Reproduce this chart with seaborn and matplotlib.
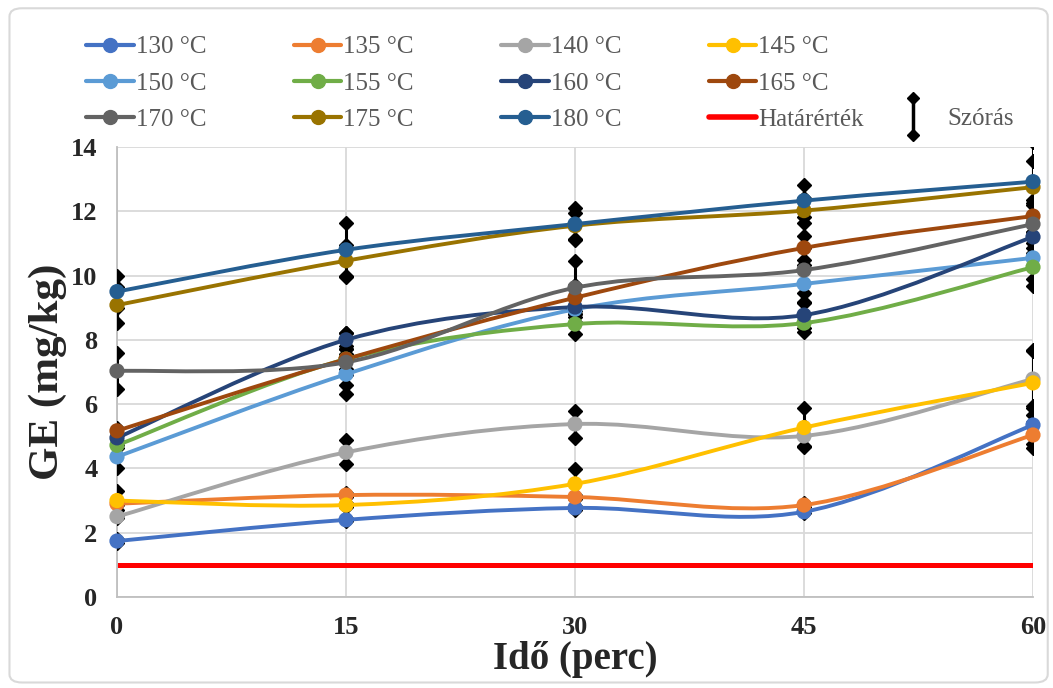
import numpy as np
import pandas as pd
import matplotlib
matplotlib.use("Agg")
import matplotlib.pyplot as plt
import seaborn as sns
from matplotlib.path import Path
from matplotlib.patches import PathPatch, FancyBboxPatch
from matplotlib.lines import Line2D
from matplotlib.legend_handler import HandlerBase

# --- data ---
times = [0, 15, 30, 45, 60]
labels = ["130 °C", "135 °C", "140 °C", "145 °C", "150 °C", "155 °C",
          "160 °C", "165 °C", "170 °C", "175 °C", "180 °C"]

ge_130 = [1.74, 2.40, 2.77, 2.65, 5.35]
ge_135 = [2.90, 3.17, 3.11, 2.86, 5.04]
ge_140 = [2.50, 4.50, 5.38, 5.01, 6.78]
ge_145 = [3.00, 2.86, 3.52, 5.27, 6.66]
ge_150 = [4.36, 6.93, 8.95, 9.74, 10.55]
ge_155 = [4.72, 7.40, 8.49, 8.52, 10.26]
ge_160 = [4.95, 8.00, 9.02, 8.77, 11.20]
ge_165 = [5.17, 7.40, 9.31, 10.86, 11.85]
ge_170 = [7.03, 7.30, 9.62, 10.17, 11.60]
ge_175 = [9.08, 10.46, 11.55, 12.02, 12.75]
ge_180 = [9.50, 10.80, 11.60, 12.33, 12.92]

# standard deviations (Szórás)
sd_130 = [0.05, 0.05, 0.05, 0.05, 0.60]
sd_135 = [0.05, 0.05, 0.05, 0.05, 0.40]
sd_140 = [0.05, 0.37, 0.42, 0.30, 0.90]
sd_145 = [0.30, 0.05, 0.45, 0.60, 1.00]
sd_150 = [0.36, 0.63, 0.40, 0.60, 0.66]
sd_155 = [0.10, 0.30, 0.30, 0.27, 0.60]
sd_160 = [0.10, 0.20, 0.30, 0.40, 0.50]
sd_165 = [0.10, 0.80, 0.40, 0.37, 0.50]
sd_170 = [0.55, 0.40, 0.83, 0.70, 0.60]
sd_175 = [0.55, 0.50, 0.40, 0.40, 1.40]
sd_180 = [0.50, 0.83, 0.50, 0.50, 0.65]

hatarertek = 1.0

colors = ["#4472C4", "#ED7D31", "#A5A5A5", "#FFC000", "#5B9BD5", "#70AD47",
          "#264478", "#9E480E", "#636363", "#997300", "#255E91"]

values = [ge_130, ge_135, ge_140, ge_145, ge_150, ge_155,
          ge_160, ge_165, ge_170, ge_175, ge_180]
errors = [sd_130, sd_135, sd_140, sd_145, sd_150, sd_155,
          sd_160, sd_165, sd_170, sd_175, sd_180]

df = pd.DataFrame({
    "Idő": np.tile(times, len(labels)),
    "GE": np.concatenate(values),
    "sd": np.concatenate(errors),
    "Hőmérséklet": np.repeat(labels, len(times)),
})


def smooth_path(xs, ys):
    """Excel-like smoothed line through the points (cubic Bezier segments)."""
    pts = np.column_stack([xs, ys]).astype(float)
    n = len(pts)
    verts = [pts[0]]
    codes = [Path.MOVETO]
    for i in range(n - 1):
        p0 = pts[max(i - 1, 0)]
        p1 = pts[i]
        p2 = pts[i + 1]
        p3 = pts[min(i + 2, n - 1)]
        verts += [p1 + (p2 - p0) / 6, p2 - (p3 - p1) / 6, p2]
        codes += [Path.CURVE4] * 3
    return Path(verts, codes)


class SzorasHandler(HandlerBase):
    def create_artists(self, legend, orig_handle, xdescent, ydescent,
                       width, height, fontsize, trans):
        cx = width / 2 - xdescent
        cy = height / 2 - ydescent
        ln = Line2D([cx, cx], [cy - 13.5, cy + 13.5], color="black", lw=2.5,
                    marker="D", ms=6.5, transform=trans)
        return [ln]


sns.set_style("white")
plt.rcParams["font.family"] = ["Liberation Serif", "DejaVu Serif"]

fig = plt.figure(figsize=(10.53, 6.88), dpi=100)
ax = fig.add_axes([0.1111, 0.1323, 0.8699, 0.6541])

# red limit line
ax.plot(times, [hatarertek] * len(times), color="#FF0000", lw=3.6, zorder=2,
        solid_capstyle="butt")

# error bars (clipped by the axes like the original)
for _, row in df.iterrows():
    ax.plot([row["Idő"], row["Idő"]], [row["GE"] - row["sd"], row["GE"] + row["sd"]],
            color="black", lw=2.2, zorder=3, marker="D", ms=7,
            solid_capstyle="butt")

# smoothed lines
for lab, col in zip(labels, colors):
    sub = df[df["Hőmérséklet"] == lab]
    ax.add_patch(PathPatch(smooth_path(sub["Idő"], sub["GE"]), fc="none",
                           ec=col, lw=2.8, zorder=4, clip_on=False))

sns.scatterplot(data=df, x="Idő", y="GE", hue="Hőmérséklet", palette=colors,
                s=120, linewidth=0, legend=False, zorder=5, clip_on=False, ax=ax)

ax.set_xlim(0, 60)
ax.set_ylim(0, 14)
ax.set_xticks(times)
ax.set_yticks(range(0, 15, 2))
ax.grid(True, color="#D9D9D9", lw=1.3)
ax.set_axisbelow(True)
for s in ["top", "right"]:
    ax.spines[s].set_visible(False)
for s in ["left", "bottom"]:
    ax.spines[s].set_color("#BFBFBF")
    ax.spines[s].set_linewidth(1.3)
ax.tick_params(length=0, labelsize=19, pad=14)
for t in ax.get_xticklabels() + ax.get_yticklabels():
    t.set_fontweight("bold")

ax.set_xlabel("Idő (perc)", fontsize=28, fontweight="bold", va="center")
ax.set_ylabel("GE (mg/kg)", fontsize=31, fontweight="bold", va="center")
ax.xaxis.set_label_coords(0.5, -0.14)
ax.yaxis.set_label_coords(-0.076, 0.5)

# legend: 12 entries in 3 rows x 4 columns (row-major like Excel)
handles = [Line2D([], [], color=c, lw=3, marker="o", ms=10) for c in colors]
handles.append(Line2D([], [], color="#FF0000", lw=4))
names = labels + ["Határérték"]
order = [0, 4, 8, 1, 5, 9, 2, 6, 10, 3, 7, 11]
leg = fig.legend([handles[i] for i in order], [names[i] for i in order],
                 loc="upper left", bbox_to_anchor=(0.082, 0.948), ncol=4,
                 frameon=False, fontsize=18, handlelength=1.9,
                 handletextpad=0.08, columnspacing=3.5, labelspacing=0.55,
                 borderpad=0, borderaxespad=0)
for t in leg.get_texts():
    t.set_color("#595959")

leg2 = fig.legend([object()], ["Szórás"], handler_map={object: SzorasHandler()},
                  loc="center left", bbox_to_anchor=(0.855, 1 - 119 / 688),
                  frameon=False, fontsize=18, handlelength=1.0,
                  handletextpad=0.9, borderpad=0, borderaxespad=0)
for t in leg2.get_texts():
    t.set_color("#595959")

fig.patches.append(FancyBboxPatch((0.009, 0.008), 0.986, 0.98,
                                  boxstyle="round,pad=0,rounding_size=0.012",
                                  transform=fig.transFigure, fc="none",
                                  ec="#D9D9D9", lw=1.5))

fig.savefig("out.png", dpi=100)
